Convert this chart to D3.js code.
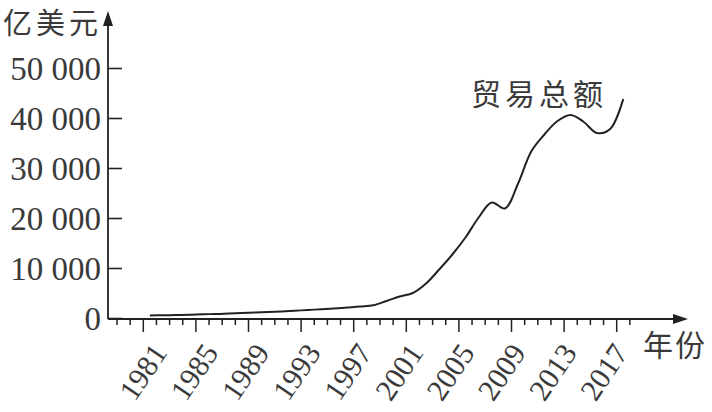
<!DOCTYPE html>
<html><head><meta charset="utf-8">
<script src="https://cdn.jsdelivr.net/npm/d3@7"></script>
<style>body{margin:0;background:#fff;} svg{display:block;}</style>
</head><body>
<svg id="c" width="712" height="412"></svg>
<script>
const years = d3.range(1981, 2018);
const tradeTotal = [600, 650, 700, 750, 850, 900, 1000, 1100, 1200, 1300, 1400, 1550, 1700, 1850, 2000, 2200, 2400, 2650,
  3500, 4400, 5100, 7000, 9800, 12800, 16200, 20200, 23200, 22000, 27000, 33400, 36800, 39500, 40700, 39300, 37100, 37900, 43900];
const yTicks = [0, 10000, 20000, 30000, 40000, 50000];
const yTickLabels = ["0", "10 000", "20 000", "30 000", "40 000", "50 000"];
const xTickYears = d3.range(1979, 2019);
const xLabelYears = d3.range(1981, 2018, 4);
const yUnit = "亿美元", xUnit = "年份", seriesName = "贸易总额";

const svg = d3.select("#c");
const ink = "#222";
const x = d3.scaleLinear().domain([1981, 2017]).range([143.3, 616.7]);
const xLab = d3.scaleLinear().domain([1981, 2017]).range([143, 604]);
const y = d3.scaleLinear().domain([0, 50000]).range([318.5, 68.5]);
const x0 = 108, yAxisY = 319;

// y axis
svg.append("line").attr("x1", x0).attr("x2", x0).attr("y1", yAxisY).attr("y2", 20)
  .attr("stroke", ink).attr("stroke-width", 1.8);
svg.append("path").attr("d", `M${x0},11 L${x0-5},26 L${x0+5},26 Z`).attr("fill", ink);
// x axis
svg.append("line").attr("x1", x0).attr("x2", 678).attr("y1", yAxisY).attr("y2", yAxisY)
  .attr("stroke", ink).attr("stroke-width", 1.8);
svg.append("path").attr("d", `M688,${yAxisY} L673,${yAxisY-5} L673,${yAxisY+5} Z`).attr("fill", ink);

// y ticks
svg.selectAll(".yt").data(yTicks).join("line")
  .attr("x1", x0).attr("x2", x0 + 14).attr("y1", d => y(d)).attr("y2", d => y(d))
  .attr("stroke", ink).attr("stroke-width", 1.6);
svg.selectAll(".yl").data(yTicks).join("text")
  .attr("x", 101).attr("y", d => y(d)).attr("dy", "0.34em")
  .attr("text-anchor", "end").attr("font-family", "Liberation Serif")
  .attr("font-size", 33).attr("fill", "#3a3a3a")
  .text((d, i) => yTickLabels[i]);

// x ticks
svg.selectAll(".xt").data(xTickYears).join("line")
  .attr("x1", d => x(d)).attr("x2", d => x(d)).attr("y1", yAxisY)
  .attr("y2", d => ((d - 1981) % 4 === 0) ? yAxisY + 13 : yAxisY + 6)
  .attr("stroke", ink).attr("stroke-width", 1.5);
svg.selectAll(".xl").data(xLabelYears).join("text")
  .attr("transform", d => `translate(${xLab(d)},372) rotate(-56)`)
  .attr("text-anchor", "middle").attr("dy", "0.34em")
  .attr("font-family", "Liberation Serif").attr("font-size", 30).attr("fill", "#3a3a3a")
  .text(d => d);

// line
const line = d3.line().x((d, i) => x(years[i] + 0.5)).y(d => y(d)).curve(d3.curveCatmullRom.alpha(0.5));
svg.append("path").datum(tradeTotal).attr("d", line)
  .attr("fill", "none").attr("stroke", ink).attr("stroke-width", 2);

// texts
const cjk = "'Noto Sans CJK SC', sans-serif";
svg.append("text").attr("x", 3).attr("y", 34).attr("font-family", cjk).attr("font-size", 29)
  .attr("letter-spacing", 4).attr("fill", "#3a3a3a").text(yUnit);
svg.append("text").attr("x", 643).attr("y", 356).attr("font-family", cjk).attr("font-size", 30)
  .attr("letter-spacing", 2).attr("fill", "#3a3a3a").text(xUnit);
svg.append("text").attr("x", 471).attr("y", 104.5).attr("font-family", cjk).attr("font-size", 30)
  .attr("letter-spacing", 4).attr("fill", "#3a3a3a").text(seriesName);
</script>
</body></html>
